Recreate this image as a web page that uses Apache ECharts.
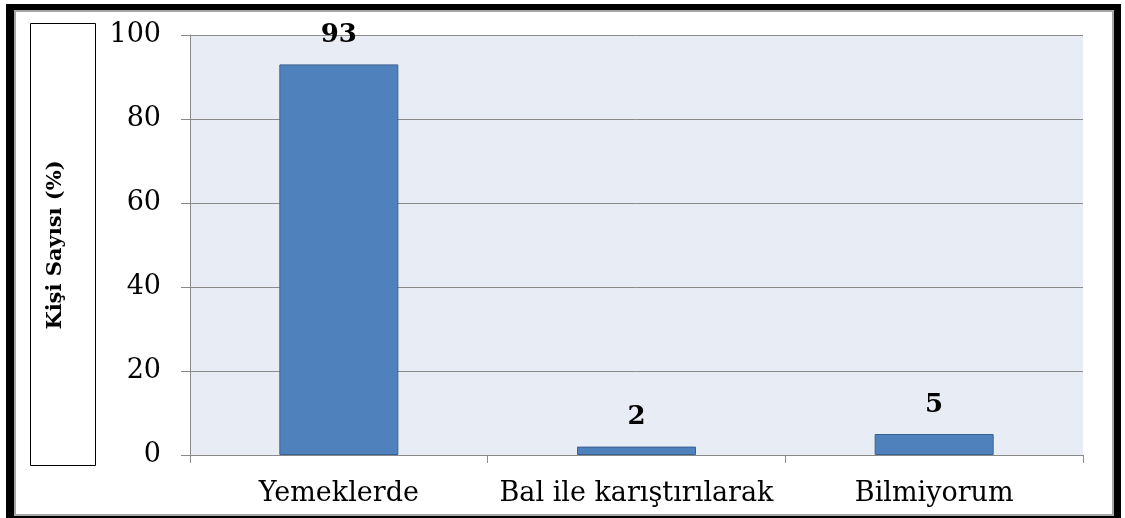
<!DOCTYPE html>
<html>
<head>
<meta charset="utf-8">
<script src="https://cdn.jsdelivr.net/npm/echarts@6/dist/echarts.min.js"></script>
<style>
  html, body { margin: 0; padding: 0; background: #fff; }
  #chart { width: 1125px; height: 518px; }
</style>
</head>
<body>
<div id="chart"></div>
<script>
// data
var categories = ["Yemeklerde", "Bal ile karıştırılarak", "Bilmiyorum"];
var values = [93, 2, 5];
var yTicks = { min: 0, max: 100, interval: 20 };
var yName = "Kişi Sayısı (%)";

var serif = "'DejaVu Serif', serif";
var gray = "#8a8a8a";

var myChart = echarts.init(document.getElementById("chart"));
myChart.setOption({
  animation: false,
  // frame + y-name box
  graphic: [
    {
      type: "rect",
      z: -10,
      shape: { x: 6, y: 4, width: 1115, height: 514 },
      style: { fill: "#000" }
    },
    {
      type: "rect",
      z: -9,
      shape: { x: 15, y: 11, width: 1098, height: 504 },
      style: { fill: "#fff", stroke: "#a6a6a6", lineWidth: 2 }
    },
    {
      type: "rect",
      z: -8,
      shape: { x: 30.5, y: 23.5, width: 65, height: 442 },
      style: { fill: "#fff", stroke: "#000", lineWidth: 1 }
    }
  ],
  grid: {
    left: 190,
    top: 35,
    right: 42,
    bottom: 63,
    show: true,
    backgroundColor: "#e8ecf4",
    borderWidth: 0
  },
  xAxis: {
    type: "category",
    data: categories,
    axisLine: { show: true, lineStyle: { color: gray, width: 1 } },
    axisTick: { show: true, interval: 0, length: 8, lineStyle: { color: gray } },
    axisLabel: {
      interval: 0,
      hideOverlap: false,
      margin: 25,
      color: "#000",
      fontFamily: serif,
      fontSize: 27
    }
  },
  yAxis: {
    type: "value",
    min: yTicks.min,
    max: yTicks.max,
    interval: yTicks.interval,
    name: yName,
    nameLocation: "middle",
    nameRotate: 90,
    nameGap: 124,
    nameTextStyle: {
      color: "#000",
      fontFamily: serif,
      fontWeight: "bold",
      fontSize: 21
    },
    axisLine: { show: true, lineStyle: { color: gray, width: 1 } },
    axisTick: { show: true, length: 9, lineStyle: { color: gray } },
    splitLine: { show: true, lineStyle: { color: gray, width: 1 } },
    axisLabel: {
      margin: 29,
      color: "#000",
      fontFamily: serif,
      fontSize: 27
    }
  },
  series: [
    {
      type: "bar",
      data: values,
      barWidth: 119,
      itemStyle: {
        color: "#4f81bd",
        borderColor: "#3b6190",
        borderWidth: 1
      },
      label: {
        show: true,
        position: "top",
        distance: 16,
        color: "#000",
        fontFamily: serif,
        fontWeight: "bold",
        fontSize: 26
      }
    }
  ]
});
</script>
</body>
</html>
